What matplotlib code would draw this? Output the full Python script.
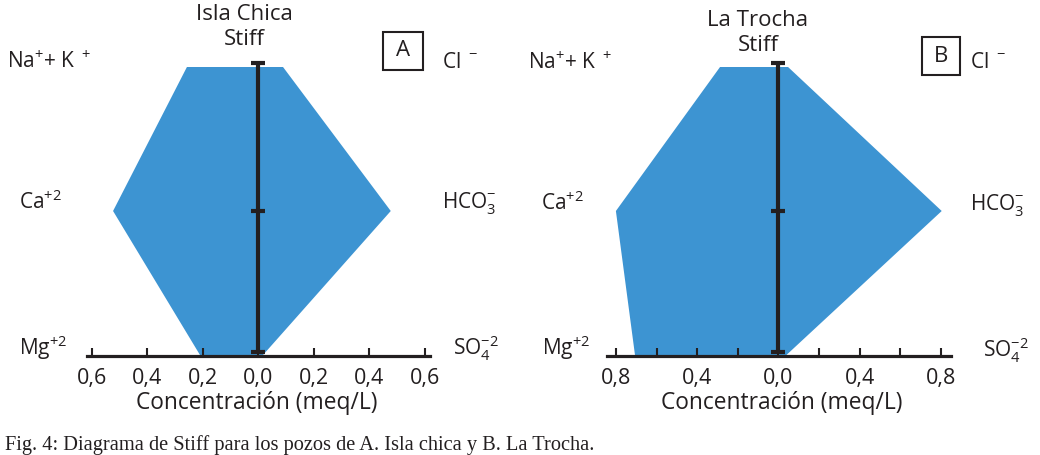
import matplotlib
matplotlib.use("Agg")
import matplotlib.pyplot as plt
from matplotlib.patches import Polygon, Rectangle

plt.rcParams['font.family'] = ['Open Sans', 'DejaVu Sans']
plt.rcParams['mathtext.default'] = 'regular'

# ---------------- data (meq/L) ----------------
cations = ['Na+K', 'Ca', 'Mg']          # left side, top to bottom
anions = ['Cl', 'HCO3', 'SO4']          # right side, top to bottom
isla_cations = [0.257, 0.523, 0.210]
isla_anions = [0.089, 0.477, 0.017]
trocha_cations = [0.287, 0.800, 0.706]
trocha_anions = [0.048, 0.805, 0.040]
ticks_a = [-0.6, -0.4, -0.2, 0.0, 0.2, 0.4, 0.6]
ticklabels_a = ['0,6', '0,4', '0,2', '0,0', '0,2', '0,4', '0,6']
ticks_b = [-0.8, -0.6, -0.4, -0.2, 0.0, 0.2, 0.4, 0.6, 0.8]
ticklabels_b = ['0,8', '', '0,4', '', '0,0', '', '0,4', '', '0,8']
titles = ['Isla Chica\nStiff', 'La Trocha\nStiff']
ion_left = ['Na$^{+}$+ K$^{\\ +}$', 'Ca$^{+2}$', 'Mg$^{+2}$']
ion_right = ['Cl$^{\\ -}$', 'HCO$_{3}^{-}$', 'SO$_{4}^{-2}$']
xlabel = 'Concentración (meq/L)'
caption = 'Fig. 4: Diagrama de Stiff para los pozos de A. Isla chica y B. La Trocha.'

W, H = 1040, 455
fig = plt.figure(figsize=(W / 100, H / 100), dpi=100)

BLUE = '#3d94d2'
DARK = '#231f20'
FS = 15


def px(x, y):
    return x / W, 1 - y / H


rows = [2, 1, 0]
ROW_PX = 144.0       # px per row
ROW0_PX = 355.0      # pixel y of bottom row


def make_panel(left_px, width_px, center_px, scale, cat, ani, ticks, tlabels,
               bounds):
    ax = fig.add_axes([left_px / W, 0, width_px / W, 1])
    ax.set_xlim(-(center_px - left_px) / scale,
                (left_px + width_px - center_px) / scale)
    ax.set_ylim(-(H - ROW0_PX) / ROW_PX, ROW0_PX / ROW_PX)
    pts = [(-cat[0], rows[0]), (ani[0], rows[0]), (ani[1], rows[1]),
           (ani[2], rows[2]), (-cat[2], rows[2]), (-cat[1], rows[1])]
    ax.add_patch(Polygon(pts, closed=True, facecolor=BLUE, edgecolor='none',
                         zorder=1))
    ax.plot([0, 0], [0.02, 2.03], color=DARK, lw=3.0, zorder=3,
            solid_capstyle='butt')
    ax.plot([0, 0, 0], [0.02, 1, 2.03], ls='none', marker='_', ms=10,
            mew=3.0, color=DARK, zorder=3)
    for s in ['top', 'left', 'right']:
        ax.spines[s].set_visible(False)
    ax.spines['bottom'].set_position(('data', -0.005))
    ax.spines['bottom'].set_bounds(*bounds)
    ax.spines['bottom'].set_linewidth(2.3)
    ax.spines['bottom'].set_color(DARK)
    ax.spines['bottom'].set_zorder(2)
    ax.set_yticks([])
    ax.set_xticks(ticks)
    ax.set_xticklabels(tlabels, fontsize=15.5, color=DARK)
    ax.tick_params(axis='x', direction='in', length=6, width=1.5,
                   color=DARK, pad=8.5)
    ax.patch.set_visible(False)
    return ax


axA = make_panel(0, 520, 258.3, 277.7, isla_cations, isla_anions,
                 ticks_a, ticklabels_a, (-0.616, 0.620))
axB = make_panel(520, 520, 778.3, 203.0, trocha_cations, trocha_anions,
                 ticks_b, ticklabels_b, (-0.845, 0.851))

# titles
fig.text(*px(244, 27), titles[0], ha='center', va='center', fontsize=16,
         linespacing=1.2, color=DARK)
fig.text(*px(758, 33), titles[1], ha='center', va='center', fontsize=16,
         linespacing=1.2, color=DARK)

# ion labels
left_pos = [[(7, 62), (19, 202), (19, 348)], [(528, 63), (541, 203), (542, 348)]]
right_pos = [[(442, 62), (442, 203), (453, 348)], [(970, 63), (970, 205), (983, 350)]]
for p in range(2):
    for i in range(3):
        fig.text(*px(*left_pos[p][i]), ion_left[i], ha='left', va='center',
                 fontsize=FS, color=DARK)
        fig.text(*px(*right_pos[p][i]), ion_right[i], ha='left',
                 va='center', fontsize=FS, color=DARK)

# boxes
for (x0, y0, w, h, lab) in [(383, 32, 40, 38, 'A'), (922, 37, 38, 38, 'B')]:
    fig.add_artist(Rectangle(px(x0, y0 + h), w / W, h / H, fill=False,
                             lw=1.5, edgecolor=DARK,
                             transform=fig.transFigure))
    fig.text(*px(x0 + w / 2, y0 + h / 2), lab, ha='center', va='center',
             fontsize=16, color=DARK)

# x labels
fig.text(*px(257, 403), xlabel, ha='center', va='center', fontsize=16.4,
         color=DARK)
fig.text(*px(782, 403), xlabel, ha='center', va='center', fontsize=16.4,
         color=DARK)

# caption
fig.text(*px(5, 450), caption, ha='left', va='baseline', fontsize=14.7,
         family='Liberation Serif', color=DARK)

fig.savefig('out.png', dpi=100)
